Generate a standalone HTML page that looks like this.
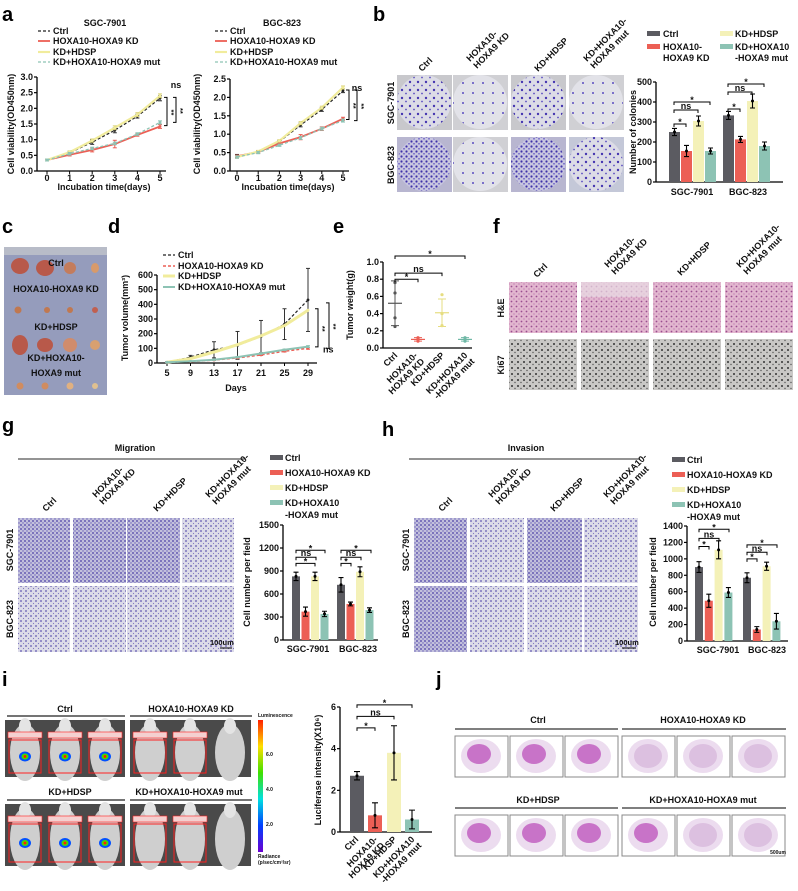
<!DOCTYPE html>
<html><head><meta charset="utf-8">
<style>
html,body{margin:0;padding:0;background:#fff;}
svg{display:block;font-family:"Liberation Sans",Arial,sans-serif;font-weight:bold;}
.t{font-size:9px;fill:#111;}
.s{font-size:7.5px;fill:#111;}
.L{font-size:20px;fill:#000;}
</style></head>
<body>
<svg id="fig" width="798" height="891" viewBox="0 0 798 891" xmlns="http://www.w3.org/2000/svg">
<defs>
<pattern id="pCol" width="8" height="8" patternUnits="userSpaceOnUse"><rect width="8" height="8" fill="#dcdce6"/><circle cx="2" cy="2" r="1.2" fill="#4536b0"/><circle cx="6" cy="5.5" r="0.9" fill="#5a4cc0"/></pattern>
<pattern id="pColD" width="5" height="5" patternUnits="userSpaceOnUse"><rect width="5" height="5" fill="#c8c6e0"/><circle cx="1.5" cy="1.5" r="1.1" fill="#3e30a8"/><circle cx="4" cy="3.8" r="0.8" fill="#5a4cc0"/></pattern>
<pattern id="pCol2" width="10" height="10" patternUnits="userSpaceOnUse"><rect width="10" height="10" fill="#e2e2e8"/><circle cx="3" cy="3" r="1" fill="#5a4cc0"/></pattern>
<pattern id="pMig" width="4" height="4" patternUnits="userSpaceOnUse"><rect width="4" height="4" fill="#c2c0dc"/><circle cx="1" cy="1" r="0.9" fill="#4a3ea6"/><circle cx="3" cy="3" r="0.7" fill="#6a60b8"/></pattern>
<pattern id="pMigL" width="5" height="5" patternUnits="userSpaceOnUse"><rect width="5" height="5" fill="#dcdbe8"/><circle cx="1" cy="1" r="0.9" fill="#6058b0"/><circle cx="3.5" cy="3.5" r="0.6" fill="#8078c0"/></pattern>
<pattern id="pHE" width="5" height="5" patternUnits="userSpaceOnUse"><rect width="5" height="5" fill="#e2b6cf"/><circle cx="1.5" cy="1.5" r="0.9" fill="#9a4d90"/><circle cx="4" cy="4" r="0.6" fill="#b36aa6"/></pattern>
<pattern id="pKi" width="6" height="6" patternUnits="userSpaceOnUse"><rect width="6" height="6" fill="#c9c8c6"/><circle cx="2" cy="2" r="1" fill="#333"/><circle cx="5" cy="4.5" r="0.7" fill="#555"/></pattern>
</defs>

<!-- panel letters -->
<text class="L" x="2" y="21">a</text>
<text class="L" x="373" y="21">b</text>
<text class="L" x="2" y="233">c</text>
<text class="L" x="108" y="233">d</text>
<text class="L" x="333" y="233">e</text>
<text class="L" x="493" y="233">f</text>
<text class="L" x="2" y="432">g</text>
<text class="L" x="382" y="436">h</text>
<text class="L" x="2" y="686">i</text>
<text class="L" x="436" y="686">j</text>

<!-- panel a titles / legends -->
<text class="t" x="105" y="26" text-anchor="middle">SGC-7901</text>
<text class="t" x="282" y="26" text-anchor="middle">BGC-823</text>
<g id="aLeg1"></g>
<g id="aLeg2"></g>
<text class="t" transform="translate(14,124) rotate(-90)" text-anchor="middle">Cell viability(OD450nm)</text>
<text class="t" transform="translate(200,124) rotate(-90)" text-anchor="middle">Cell viability(OD450nm)</text>
<text class="t" x="104" y="190" text-anchor="middle">Incubation time(days)</text>
<text class="t" x="288" y="190" text-anchor="middle">Incubation time(days)</text>
<g id="chartA1"></g>
<g id="chartA2"></g>

<!-- panel b images -->
<g>
 <rect x="397" y="75" width="55" height="55" fill="#c8c8cc"/><circle cx="424" cy="102" r="27" fill="url(#pCol)"/>
 <rect x="453" y="75" width="55" height="55" fill="#d0d0d4"/><circle cx="480" cy="102" r="27" fill="url(#pCol2)"/>
 <rect x="511" y="75" width="55" height="55" fill="#c8c8cc"/><circle cx="538" cy="102" r="27" fill="url(#pCol)"/>
 <rect x="569" y="75" width="55" height="55" fill="#d0d0d4"/><circle cx="596" cy="102" r="27" fill="url(#pCol2)"/>
 <rect x="397" y="137" width="55" height="55" fill="#b8b6d0"/><circle cx="424" cy="164" r="27" fill="url(#pColD)"/>
 <rect x="453" y="137" width="55" height="55" fill="#d0d0d4"/><circle cx="480" cy="164" r="27" fill="url(#pCol2)"/>
 <rect x="511" y="137" width="55" height="55" fill="#b8b6d0"/><circle cx="538" cy="164" r="27" fill="url(#pColD)"/>
 <rect x="569" y="137" width="55" height="55" fill="#c4c8d8"/><circle cx="596" cy="164" r="27" fill="url(#pCol)"/>
</g>
<text class="t" transform="translate(394,103) rotate(-90)" text-anchor="middle">SGC-7901</text>
<text class="t" transform="translate(394,165) rotate(-90)" text-anchor="middle">BGC-823</text>
<g class="t">
 <text transform="translate(422,72) rotate(-45)">Ctrl</text>
 <text transform="translate(470,62) rotate(-45)">HOXA10-</text><text transform="translate(477,69) rotate(-45)">HOXA9 KD</text>
 <text transform="translate(538,72) rotate(-45)">KD+HDSP</text>
 <text transform="translate(587,62) rotate(-45)">KD+HOXA10-</text><text transform="translate(594,69) rotate(-45)">HOXA9 mut</text>
</g>
<g class="t">
 <rect x="647" y="31" width="13" height="5" fill="#5b5b61"/><text x="663" y="37">Ctrl</text>
 <rect x="647" y="44" width="13" height="5" fill="#ec5f55"/><text x="663" y="50">HOXA10-</text><text x="663" y="61">HOXA9 KD</text>
 <rect x="720" y="31" width="13" height="5" fill="#f4f1b8"/><text x="735" y="37">KD+HDSP</text>
 <rect x="720" y="44" width="13" height="5" fill="#8dc3b4"/><text x="735" y="50">KD+HOXA10</text><text x="735" y="61">-HOXA9 mut</text>
</g>
<text class="t" transform="translate(636,132) rotate(-90)" text-anchor="middle">Number of colonies</text>
<g id="chartB"></g>

<!-- panel c photo -->
<g>
 <rect x="4" y="247" width="103" height="148" fill="#959cbc"/>
 <rect x="4" y="247" width="103" height="8" fill="#b8bcc8"/>
 <g fill="#b8594a"><ellipse cx="20" cy="266" rx="9" ry="8"/><ellipse cx="45" cy="268" rx="9" ry="8"/><ellipse cx="70" cy="268" rx="6" ry="6" fill="#c47c5c"/><ellipse cx="95" cy="268" rx="4" ry="5" fill="#d89a6a"/>
 <circle cx="18" cy="310" r="3.5" fill="#c07850"/><circle cx="47" cy="310" r="3" fill="#c07850"/><circle cx="70" cy="310" r="3" fill="#c07850"/><circle cx="95" cy="310" r="3" fill="#c06050"/>
 <ellipse cx="20" cy="345" rx="8" ry="10"/><ellipse cx="45" cy="345" rx="8" ry="7"/><ellipse cx="70" cy="345" rx="7" ry="7" fill="#d08c6c"/><ellipse cx="95" cy="345" rx="5" ry="5" fill="#d8a070"/>
 <circle cx="20" cy="386" r="3.5" fill="#d08c60"/><circle cx="45" cy="386" r="3.5" fill="#d08c60"/><circle cx="70" cy="386" r="3.5" fill="#e0b080"/><circle cx="95" cy="386" r="3" fill="#e0c090"/></g>
</g>
<g class="t" text-anchor="middle">
 <text x="56" y="266">Ctrl</text><text x="56" y="292">HOXA10-HOXA9 KD</text><text x="56" y="330">KD+HDSP</text><text x="56" y="361">KD+HOXA10-</text><text x="56" y="376">HOXA9 mut</text>
</g>

<!-- panel d -->
<g id="dLeg"></g>
<text class="t" transform="translate(128,318) rotate(-90)" text-anchor="middle">Tumor volume(mm³)</text>
<text class="t" x="236" y="391" text-anchor="middle">Days</text>
<g id="chartD"></g>

<!-- panel e -->
<text class="t" transform="translate(353,305) rotate(-90)" text-anchor="middle">Tumor weight(g)</text>
<g id="chartE"></g>
<g class="t" text-anchor="end">
 <text transform="translate(398,356) rotate(-45)">Ctrl</text>
 <text transform="translate(418,356) rotate(-45)">HOXA10-</text><text transform="translate(425,362) rotate(-45)">HOXA9 KD</text>
 <text transform="translate(445,356) rotate(-45)">KD+HDSP</text>
 <text transform="translate(468,356) rotate(-45)">KD+HOXA10</text><text transform="translate(475,362) rotate(-45)">-HOXA9 mut</text>
</g>

<!-- panel f -->
<g>
 <rect x="509" y="282" width="68" height="51" fill="url(#pHE)"/><rect x="581" y="282" width="68" height="51" fill="url(#pHE)"/><rect x="653" y="282" width="68" height="51" fill="url(#pHE)"/><rect x="725" y="282" width="68" height="51" fill="url(#pHE)"/>
 <rect x="581" y="282" width="68" height="15" fill="#eadde4" opacity="0.7"/>
 <rect x="509" y="339" width="68" height="51" fill="url(#pKi)"/><rect x="581" y="339" width="68" height="51" fill="url(#pKi)"/><rect x="653" y="339" width="68" height="51" fill="url(#pKi)"/><rect x="725" y="339" width="68" height="51" fill="url(#pKi)"/>
</g>
<text class="t" transform="translate(504,308) rotate(-90)" text-anchor="middle">H&amp;E</text>
<text class="t" transform="translate(504,365) rotate(-90)" text-anchor="middle">Ki67</text>
<g class="t">
 <text transform="translate(537,278) rotate(-45)">Ctrl</text>
 <text transform="translate(608,268) rotate(-45)">HOXA10-</text><text transform="translate(615,275) rotate(-45)">HOXA9 KD</text>
 <text transform="translate(681,276) rotate(-45)">KD+HDSP</text>
 <text transform="translate(740,268) rotate(-45)">KD+HOXA10-</text><text transform="translate(747,275) rotate(-45)">HOXA9 mut</text>
</g>

<!-- panel g -->
<text class="t" x="135" y="451" text-anchor="middle">Migration</text>
<line x1="18" y1="459" x2="245" y2="459" stroke="#555" stroke-width="1.2"/>
<g>
 <rect x="18" y="518" width="52" height="65" fill="url(#pMig)"/><rect x="73" y="518" width="53" height="65" fill="url(#pMig)"/><rect x="127" y="518" width="53" height="65" fill="url(#pMig)"/><rect x="182" y="518" width="52" height="65" fill="url(#pMigL)"/>
 <rect x="18" y="586" width="52" height="66" fill="url(#pMigL)"/><rect x="73" y="586" width="53" height="66" fill="url(#pMigL)"/><rect x="127" y="586" width="53" height="66" fill="url(#pMigL)"/><rect x="182" y="586" width="52" height="66" fill="url(#pMigL)"/>
 <line x1="220" y1="648" x2="232" y2="648" stroke="#000"/><text class="s" x="210" y="645">100um</text>
</g>
<text class="t" transform="translate(13,550) rotate(-90)" text-anchor="middle">SGC-7901</text>
<text class="t" transform="translate(13,619) rotate(-90)" text-anchor="middle">BGC-823</text>
<g class="t">
 <text transform="translate(46,512) rotate(-45)">Ctrl</text>
 <text transform="translate(96,498) rotate(-45)">HOXA10-</text><text transform="translate(103,505) rotate(-45)">HOXA9 KD</text>
 <text transform="translate(157,512) rotate(-45)">KD+HDSP</text>
 <text transform="translate(209,498) rotate(-45)">KD+HOXA10-</text><text transform="translate(216,505) rotate(-45)">HOXA9 mut</text>
</g>
<g class="t">
 <rect x="270" y="455" width="13" height="5" fill="#5b5b61"/><text x="285" y="461">Ctrl</text>
 <rect x="270" y="470" width="13" height="5" fill="#ec5f55"/><text x="285" y="476">HOXA10-HOXA9 KD</text>
 <rect x="270" y="485" width="13" height="5" fill="#f4f1b8"/><text x="285" y="491">KD+HDSP</text>
 <rect x="270" y="500" width="13" height="5" fill="#8dc3b4"/><text x="285" y="506">KD+HOXA10</text><text x="285" y="518">-HOXA9 mut</text>
</g>
<text class="t" transform="translate(250,582) rotate(-90)" text-anchor="middle">Cell number per field</text>
<g id="chartG"></g>

<!-- panel h -->
<text class="t" x="526" y="451" text-anchor="middle">Invasion</text>
<line x1="409" y1="459" x2="640" y2="459" stroke="#555" stroke-width="1.2"/>
<g>
 <rect x="414" y="518" width="53" height="65" fill="url(#pMig)"/><rect x="470" y="518" width="54" height="65" fill="url(#pMigL)"/><rect x="527" y="518" width="55" height="65" fill="url(#pMig)"/><rect x="584" y="518" width="54" height="65" fill="url(#pMigL)"/>
 <rect x="414" y="586" width="53" height="66" fill="url(#pMig)"/><rect x="470" y="586" width="54" height="66" fill="url(#pMigL)"/><rect x="527" y="586" width="55" height="66" fill="url(#pMigL)"/><rect x="584" y="586" width="54" height="66" fill="url(#pMigL)"/>
 <line x1="622" y1="648" x2="636" y2="648" stroke="#000"/><text class="s" x="615" y="645">100um</text>
</g>
<text class="t" transform="translate(409,550) rotate(-90)" text-anchor="middle">SGC-7901</text>
<text class="t" transform="translate(409,619) rotate(-90)" text-anchor="middle">BGC-823</text>
<g class="t">
 <text transform="translate(442,512) rotate(-45)">Ctrl</text>
 <text transform="translate(492,498) rotate(-45)">HOXA10-</text><text transform="translate(499,505) rotate(-45)">HOXA9 KD</text>
 <text transform="translate(554,512) rotate(-45)">KD+HDSP</text>
 <text transform="translate(607,498) rotate(-45)">KD+HOXA10-</text><text transform="translate(614,505) rotate(-45)">HOXA9 mut</text>
</g>
<g class="t">
 <rect x="672" y="457" width="13" height="5" fill="#5b5b61"/><text x="687" y="463">Ctrl</text>
 <rect x="672" y="472" width="13" height="5" fill="#ec5f55"/><text x="687" y="478">HOXA10-HOXA9 KD</text>
 <rect x="672" y="487" width="13" height="5" fill="#f4f1b8"/><text x="687" y="493">KD+HDSP</text>
 <rect x="672" y="502" width="13" height="5" fill="#8dc3b4"/><text x="687" y="508">KD+HOXA10</text><text x="687" y="520">-HOXA9 mut</text>
</g>
<text class="t" transform="translate(656,582) rotate(-90)" text-anchor="middle">Cell number per field</text>
<g id="chartH"></g>

<!-- panel i -->
<g class="t" text-anchor="middle">
 <text x="65" y="712">Ctrl</text><text x="191" y="712">HOXA10-HOXA9 KD</text>
 <text x="70" y="795">KD+HDSP</text><text x="189" y="795">KD+HOXA10-HOXA9 mut</text>
</g>
<g stroke="#222" stroke-width="1.2">
 <line x1="7" y1="716" x2="125" y2="716"/><line x1="130" y1="716" x2="252" y2="716"/>
 <line x1="7" y1="800" x2="125" y2="800"/><line x1="130" y1="800" x2="252" y2="800"/>
</g>
<g id="iMice">
 <rect x="5" y="720" width="120" height="57" fill="#4a4a4a"/><rect x="130" y="720" width="121" height="57" fill="#4a4a4a"/>
 <rect x="5" y="804" width="120" height="62" fill="#4a4a4a"/><rect x="130" y="804" width="121" height="62" fill="#4a4a4a"/>
</g>
<g>
 <defs><linearGradient id="cb" x1="0" y1="1" x2="0" y2="0"><stop offset="0" stop-color="#6a00d0"/><stop offset="0.2" stop-color="#0040ff"/><stop offset="0.4" stop-color="#00e0e0"/><stop offset="0.6" stop-color="#40e000"/><stop offset="0.8" stop-color="#ffe000"/><stop offset="1" stop-color="#ff2000"/></linearGradient></defs>
 <rect x="258" y="720" width="5" height="132" fill="url(#cb)"/>
 <text class="s" x="258" y="717" style="font-size:5px">Luminescence</text>
 <text class="s" x="266" y="756" style="font-size:5px">6.0</text><text class="s" x="266" y="791" style="font-size:5px">4.0</text><text class="s" x="266" y="826" style="font-size:5px">2.0</text>
 <text class="s" x="258" y="858" style="font-size:5px">Radiance</text><text class="s" x="258" y="864" style="font-size:5px">(p/sec/cm²/sr)</text>
</g>
<text class="t" transform="translate(321,770) rotate(-90)" text-anchor="middle">Luciferase intensity(X10⁶)</text>
<g id="chartI"></g>
<g class="t" text-anchor="end">
 <text transform="translate(359,840) rotate(-45)">Ctrl</text>
 <text transform="translate(378,840) rotate(-45)">HOXA10-</text><text transform="translate(385,846) rotate(-45)">HOXA9 KD</text>
 <text transform="translate(397,840) rotate(-45)">KD+HDSP</text>
 <text transform="translate(415,840) rotate(-45)">KD+HOXA10</text><text transform="translate(422,846) rotate(-45)">-HOXA9 mut</text>
</g>

<!-- panel j -->
<g class="t" text-anchor="middle">
 <text x="538" y="723">Ctrl</text><text x="703" y="723">HOXA10-HOXA9 KD</text>
 <text x="538" y="803">KD+HDSP</text><text x="703" y="803">KD+HOXA10-HOXA9 mut</text>
</g>
<g stroke="#333" stroke-width="1.2">
 <line x1="455" y1="729" x2="618" y2="729"/><line x1="622" y1="729" x2="786" y2="729"/>
 <line x1="455" y1="808" x2="618" y2="808"/><line x1="622" y1="808" x2="786" y2="808"/>
</g>
<g id="jLungs"></g>

<script>
// ---------- data ----------
const aDays = [0,1,2,3,4,5];
const aSgcCtrl = [0.35,0.58,0.92,1.30,1.75,2.32];
const aSgcKD   = [0.35,0.52,0.67,0.86,1.15,1.42];
const aSgcHDSP = [0.35,0.60,0.97,1.38,1.80,2.40];
const aSgcMut  = [0.35,0.55,0.72,0.88,1.18,1.55];
const aBgcCtrl = [0.40,0.52,0.80,1.25,1.67,2.18];
const aBgcKD   = [0.40,0.52,0.75,0.92,1.15,1.42];
const aBgcHDSP = [0.38,0.53,0.82,1.30,1.72,2.27];
const aBgcMut  = [0.38,0.50,0.70,0.90,1.15,1.37];
const aYTicks1 = [0,0.5,1.0,1.5,2.0,2.5,3.0];
const aYTicks2 = [0,0.5,1.0,1.5,2.0,2.5];

const bGroups = ["SGC-7901","BGC-823"];
const bCtrl = [250,333]; const bKD = [155,213]; const bHDSP = [305,405]; const bMut = [155,180];
const bErr = [[18,20],[28,15],[25,35],[15,20]];
const bTicks = [0,100,200,300,400,500];

const dDays = [5,9,13,17,21,25,29];
const dCtrl = [5,40,90,120,180,265,430];
const dCtrlErr = [3,12,55,95,110,105,215];
const dKD = [5,10,20,35,55,80,100];
const dHDSP = [5,30,75,125,185,255,360];
const dMut = [5,12,22,40,65,90,112];
const dTicks = [0,100,200,300,400,500,600];

const eMeans = [0.52,0.10,0.41,0.10];
const eSD = [0.26,0.02,0.16,0.02];
const ePoints = [[0.25,0.35,0.64,0.76],[0.08,0.10,0.11,0.12],[0.26,0.40,0.62],[0.08,0.10,0.12]];
const eTicks = [0,0.2,0.4,0.6,0.8,1.0];

const gCtrl = [830,720]; const gKD = [370,470]; const gHDSP = [830,890]; const gMut = [340,390];
const gErr = [[55,95],[60,25],[55,65],[35,30]];
const gTicks = [0,300,600,900,1200,1500];

const hCtrl = [900,770]; const hKD = [490,140]; const hHDSP = [1110,910]; const hMut = [590,240];
const hErr = [[65,60],[80,35],[110,50],[60,95]];
const hTicks = [0,200,400,600,800,1000,1200,1400];

const iVals = [2.7,0.8,3.8,0.6];
const iSD = [0.2,0.6,1.3,0.45];
const iTicks = [0,2,4,6];

const colors = ["#5b5b61","#ec5f55","#f4f1b8","#8dc3b4"];
const lineCols = ["#222","#ec5f55","#f1ec9c","#8dc3b4"];
const names = ["Ctrl","HOXA10-HOXA9 KD","KD+HDSP","KD+HOXA10-HOXA9 mut"];

// ---------- helpers ----------
const NS = "http://www.w3.org/2000/svg";
function mk(tag, attrs, parent){ const e=document.createElementNS(NS,tag); for(const k in attrs) e.setAttribute(k,attrs[k]); parent.appendChild(e); return e; }
function lin(d0,d1,r0,r1){ return v => r0 + (v-d0)/(d1-d0)*(r1-r0); }
function txt(p,x,y,s,anchor,cls){ const t=mk('text',{x:x,y:y,'text-anchor':anchor||'middle','class':cls||'t'},p); t.textContent=s; return t; }

function yAxis(g, x, sy, ticks, fmt, y0, y1){
  mk('line',{x1:x,y1:sy(ticks[0])+0.5,x2:x,y2:sy(ticks[ticks.length-1]),stroke:'#000','stroke-width':1.3},g);
  ticks.forEach(v=>{ mk('line',{x1:x-3,y1:sy(v),x2:x,y2:sy(v),stroke:'#000','stroke-width':1.2},g);
    const t=txt(g,x-4,sy(v)+3,fmt(v),'end');
    
     });
}
function xAxis(g, y, x0, x1){ mk('line',{x1:x0,y1:y,x2:x1,y2:y,stroke:'#000','stroke-width':1.3},g); }

function drawLines(g, xs, series, errs, sx, sy, styles){
  series.forEach((vals,si)=>{
    const st = styles[si];
    const pts = vals.map((v,i)=>sx(xs[i])+','+sy(v)).join(' ');
    const pl = mk('polyline',{points:pts,fill:'none',stroke:st.c,'stroke-width':st.w,'stroke-dasharray':st.dash||'none'},g);
    
    
    vals.forEach((v,i)=>{
      const e = errs ? errs[si][i] : 0;
      if(e>0){ mk('line',{x1:sx(xs[i]),y1:sy(v-e),x2:sx(xs[i]),y2:sy(v+e),stroke:st.ec||st.c,'stroke-width':1},g);
        mk('line',{x1:sx(xs[i])-2,y1:sy(v+e),x2:sx(xs[i])+2,y2:sy(v+e),stroke:st.ec||st.c,'stroke-width':1},g);
        mk('line',{x1:sx(xs[i])-2,y1:sy(v-e),x2:sx(xs[i])+2,y2:sy(v-e),stroke:st.ec||st.c,'stroke-width':1},g); }
      const p = mk('circle',{cx:sx(xs[i]),cy:sy(v),r:1.4,fill:st.c},g);
      
      
    });
  });
}
function legendLines(g, x, ys, styles){
  styles.forEach((st,i)=>{
    mk('line',{x1:x,y1:ys[i]-3,x2:x+12,y2:ys[i]-3,stroke:st.c,'stroke-width':st.w,'stroke-dasharray':st.dash||'none'},g);
    const t = txt(g,x+15,ys[i],names[i],'start');
    
    
  });
}
function bracket(g,x1,x2,y,label){
  mk('path',{d:`M${x1},${y+3}V${y}H${x2}V${y+3}`,fill:'none',stroke:'#000','stroke-width':1},g);
  txt(g,(x1+x2)/2,label==='*'?y+1:y-1,label,'middle');
}
function vbracket(g,x,y1,y2,label){
  mk('path',{d:`M${x-3},${y1}H${x}V${y2}H${x-3}`,fill:'none',stroke:'#000','stroke-width':1},g);
  const t=txt(g,x+5,(y1+y2)/2+2,label,'middle','s');
  if(label==='**'){ t.setAttribute('transform',`rotate(90,${x+4},${(y1+y2)/2})`); }
}
function bars(g, groupStarts, barW, gap, seriesVals, errs, sy, y0){
  seriesVals.forEach((vals,si)=>{
    vals.forEach((v,gi)=>{
      const x = groupStarts[gi] + si*(barW+gap);
      const r = mk('rect',{x:x,y:sy(v),width:barW,height:y0-sy(v),fill:colors[si]},g);
      
      
      const e = errs[si][gi], cx = x+barW/2;
      mk('path',{d:`M${cx},${sy(v-e)}V${sy(v+e)}M${cx-2.5},${sy(v+e)}H${cx+2.5}M${cx-2.5},${sy(v-e)}H${cx+2.5}`,stroke:'#000','stroke-width':1.1,fill:'none'},g);
      mk('circle',{cx:cx,cy:sy(v),r:1.5,fill:'#000'},g);
    });
  });
}

const styles = [
  {c:lineCols[0],w:1.2,dash:'3,2',n:'ctrl',ec:'#333'},
  {c:lineCols[1],w:1.8,n:'kd',ec:'#ec5f55'},
  {c:lineCols[2],w:2.2,n:'hdsp',ec:'#d8d070'},
  {c:lineCols[3],w:1.3,dash:'3,2',n:'mut',ec:'#8dc3b4'}];

// ---------- panel a ----------
(function(){
  const g = document.getElementById('chartA1');
  const sx = lin(0,5,47,160), sy = lin(0,3,171,77);
  yAxis(g,37,sy,aYTicks1,v=>v.toFixed(1));
  xAxis(g,171,37,166);
  aDays.forEach(d=>{ mk('line',{x1:sx(d),y1:171,x2:sx(d),y2:174,stroke:'#000'},g); txt(g,sx(d),181,String(d)); });
  const errs = [[0.03,0.05,0.07,0.08,0.06,0.08],[0.03,0.04,0.06,0.12,0.04,0.06],[0.03,0.04,0.05,0.06,0.06,0.06],[0.03,0.04,0.04,0.04,0.04,0.05]];
  drawLines(g,aDays,[aSgcCtrl,aSgcKD,aSgcHDSP,aSgcMut],errs,sx,sy,styles);
  txt(g,176,88,'ns','middle');
  vbracket(g,167,sy(2.35),sy(1.45),'**'); vbracket(g,176,sy(2.35),sy(1.55),'**');
  legendLines(document.getElementById('aLeg1'),38,[34,44,55,65],styles);
})();
(function(){
  const g = document.getElementById('chartA2');
  const sx = lin(0,5,237,343), sy = lin(0,2.5,171,79);
  yAxis(g,230,sy,aYTicks2,v=>v.toFixed(1));
  xAxis(g,171,230,349);
  aDays.forEach(d=>{ mk('line',{x1:sx(d),y1:171,x2:sx(d),y2:174,stroke:'#000'},g); txt(g,sx(d),181,String(d)); });
  const errs = [[0.05,0.03,0.04,0.05,0.05,0.05],[0.03,0.03,0.04,0.07,0.05,0.04],[0.03,0.03,0.03,0.04,0.04,0.04],[0.03,0.03,0.03,0.04,0.04,0.04]];
  drawLines(g,aDays,[aBgcCtrl,aBgcKD,aBgcHDSP,aBgcMut],errs,sx,sy,styles);
  txt(g,357,91,'ns','middle');
  vbracket(g,349,sy(2.2),sy(1.4),'**'); vbracket(g,357,sy(2.2),sy(1.37),'**');
  legendLines(document.getElementById('aLeg2'),215,[34,44,55,65],styles);
})();

// ---------- panel b ----------
(function(){
  const g = document.getElementById('chartB');
  const sy = lin(0,500,182,82);
  yAxis(g,656,sy,bTicks,v=>String(v));
  xAxis(g,182,656,783);
  bars(g,[669,723],11,1,[bCtrl,bKD,bHDSP,bMut],bErr,sy,182);
  bGroups.forEach((n,i)=>txt(g,[692,748][i],195,n));
  bracket(g,674,686,sy(290),'*'); bracket(g,674,698,sy(360),'ns'); bracket(g,674,710,sy(400),'*');
  bracket(g,728,740,sy(365),'*'); bracket(g,728,752,sy(450),'ns'); bracket(g,728,764,sy(490),'*');
})();

// ---------- panel d ----------
(function(){
  const g = document.getElementById('chartD');
  const sx = lin(5,29,167,308), sy = lin(0,600,363,275);
  yAxis(g,157,sy,dTicks,v=>String(v));
  xAxis(g,363,157,317);
  dDays.forEach(d=>{ mk('line',{x1:sx(d),y1:363,x2:sx(d),y2:366,stroke:'#000'},g); txt(g,sx(d),376,String(d)); });
  const z=[0,0,0,0,0,0,0];
  drawLines(g,dDays,[dCtrl,dKD,dHDSP,dMut],[dCtrlErr,[1,2,3,4,4,5,6],z,[1,2,3,4,4,5,6]],sx,sy,
    [styles[0],{c:'#ec5f55',w:1.5,dash:'3,2',n:'kd',ec:'#ec5f55'},{c:'#f1ec9c',w:3,n:'hdsp'},{c:'#8dc3b4',w:2,n:'mut'}]);
  vbracket(g,318,sy(370),sy(110),'**'); vbracket(g,329,sy(410),sy(100),'**');
  txt(g,323,sy(100)+4,'ns','start');
  legendLines(document.getElementById('dLeg'),163,[258,269,279,290],
    [styles[0],{c:'#ec5f55',w:1.5,dash:'3,2'},{c:'#f1ec9c',w:3},{c:'#8dc3b4',w:2}]);
})();

// ---------- panel e ----------
(function(){
  const g = document.getElementById('chartE');
  const sy = lin(0,1,348,262);
  const xs = [395,418,442,465];
  yAxis(g,383,sy,eTicks,v=>v.toFixed(1));
  xAxis(g,348,383,472);
  const ec = ["#555","#ec5f55","#e6dd80","#6fb8a6"];
  eMeans.forEach((m,i)=>{
    const x = xs[i];
    const l = mk('line',{x1:x-7,y1:sy(m),x2:x+7,y2:sy(m),stroke:ec[i],'stroke-width':1.2},g);
    
    
    mk('path',{d:`M${x},${sy(m-eSD[i])}V${sy(m+eSD[i])}M${x-4},${sy(m+eSD[i])}H${x+4}M${x-4},${sy(m-eSD[i])}H${x+4}`,stroke:ec[i],'stroke-width':1,fill:'none'},g);
    ePoints[i].forEach(v=>{ const c=mk('circle',{cx:x,cy:sy(v),r:1.6,fill:ec[i]},g);
      
       });
  });
  bracket(g,395,418,sy(0.8),'*'); bracket(g,395,442,sy(0.87),'ns'); bracket(g,395,465,sy(1.07),'*');
})();

// ---------- panel g ----------
(function(){
  const g = document.getElementById('chartG');
  const sy = lin(0,1500,640,525);
  yAxis(g,283,sy,gTicks,v=>String(v));
  xAxis(g,640,283,378);
  bars(g,[292,337],8,1.5,[gCtrl,gKD,gHDSP,gMut],gErr,sy,640);
  txt(g,308,652,'SGC-7901'); txt(g,358,652,'BGC-823');
  bracket(g,296,315,sy(1000),'*'); bracket(g,296,316,sy(1080),'ns'); bracket(g,296,325,sy(1170),'*');
  bracket(g,341,351,sy(1000),'*'); bracket(g,341,361,sy(1080),'ns'); bracket(g,341,371,sy(1170),'*');
})();

// ---------- panel h ----------
(function(){
  const g = document.getElementById('chartH');
  const sy = lin(0,1400,641,526);
  yAxis(g,687,sy,hTicks,v=>String(v));
  xAxis(g,641,687,788);
  bars(g,[695,743],8,1.8,[hCtrl,hKD,hHDSP,hMut],hErr,sy,641);
  txt(g,718,653,'SGC-7901'); txt(g,767,653,'BGC-823');
  bracket(g,699,709,sy(1150),'*'); bracket(g,699,719,sy(1250),'ns'); bracket(g,699,729,sy(1360),'*');
  bracket(g,747,757,sy(1000),'*'); bracket(g,747,767,sy(1080),'ns'); bracket(g,747,777,sy(1170),'*');
})();

// ---------- panel i ----------
(function(){
  const g = document.getElementById('chartI');
  const sy = lin(0,6,832,707);
  yAxis(g,340,sy,iTicks,v=>String(v));
  xAxis(g,832,340,432);
  const xs = [350,368,387,405];
  iVals.forEach((v,i)=>{
    const r = mk('rect',{x:xs[i],y:sy(v),width:14,height:832-sy(v),fill:colors[i]},g);
    
    
    const cx = xs[i]+7, e = iSD[i];
    mk('path',{d:`M${cx},${sy(Math.max(0,v-e))}V${sy(v+e)}M${cx-3},${sy(v+e)}H${cx+3}M${cx-3},${sy(Math.max(0,v-e))}H${cx+3}`,stroke:'#000','stroke-width':1.1,fill:'none'},g);
    mk('circle',{cx:cx,cy:sy(v),r:1.5,fill:'#000'},g);
  });
  bracket(g,357,375,sy(5),'*'); bracket(g,357,394,sy(5.55),'ns'); bracket(g,357,412,sy(6.1),'*');
})();

// ---------- mice images ----------
(function(){
  const g = document.getElementById('iMice');
  const panels = [[5,720,57],[130,720,57],[5,804,62],[130,804,62]];
  const blobs = [[1,1,1],[1,1,0],[1,1,1],[1,1,0]];
  panels.forEach((p,pi)=>{
    for(let k=0;k<3;k++){
      const cx = p[0]+20+k*40;
      mk('ellipse',{cx:cx,cy:p[1]+p[2]/2+4,rx:15,ry:p[2]/2,fill:'#cfcfcf'},g);
      mk('ellipse',{cx:cx,cy:p[1]+6,rx:6,ry:8,fill:'#e4e4e4'},g);
      if(k<2 || blobs[pi][2]){
        mk('rect',{x:cx-16,y:p[1]+20,width:32,height:p[2]-24,fill:'none',stroke:'#ff2020','stroke-width':1},g);
        mk('rect',{x:cx-17,y:p[1]+12,width:34,height:6,fill:'#f4d0d0',stroke:'#ff2020','stroke-width':0.6},g);
      }
      if(blobs[pi][k] && (pi===0||pi===2)){
        mk('ellipse',{cx:cx,cy:p[1]+p[2]/2+8,rx:6,ry:5,fill:'#0050ff'},g);
        mk('ellipse',{cx:cx,cy:p[1]+p[2]/2+8,rx:3.5,ry:3,fill:'#40e000'},g);
        mk('circle',{cx:cx,cy:p[1]+p[2]/2+8,r:1.5,fill:'#ff2000'},g);
      }
    }
  });
})();

// ---------- lung images ----------
(function(){
  const g = document.getElementById('jLungs');
  const xs = [455,510,565,622,677,732];
  const rows = [736,815];
  rows.forEach((y,ri)=>{
    xs.forEach((x,i)=>{
      mk('rect',{x:x,y:y,width:53,height:41,fill:'#fff',stroke:'#888','stroke-width':1},g);
      mk('ellipse',{cx:x+26,cy:y+20,rx:20,ry:17,fill:'#ecdcef'},g);
      const heavy = (ri===0 && i<3) || (ri===1 && i<4);
      if(heavy){ mk('ellipse',{cx:x+24,cy:y+18,rx:12,ry:10,fill:'#c873c8'},g); }
      else { mk('ellipse',{cx:x+26,cy:y+20,rx:14,ry:12,fill:'#dcc0e0'},g); }
    });
  });
  const t = txt(g,778,854,'500um','middle','s');
  t.setAttribute('style','font-size:5px');
})();
</script>
</svg>
</body></html>
